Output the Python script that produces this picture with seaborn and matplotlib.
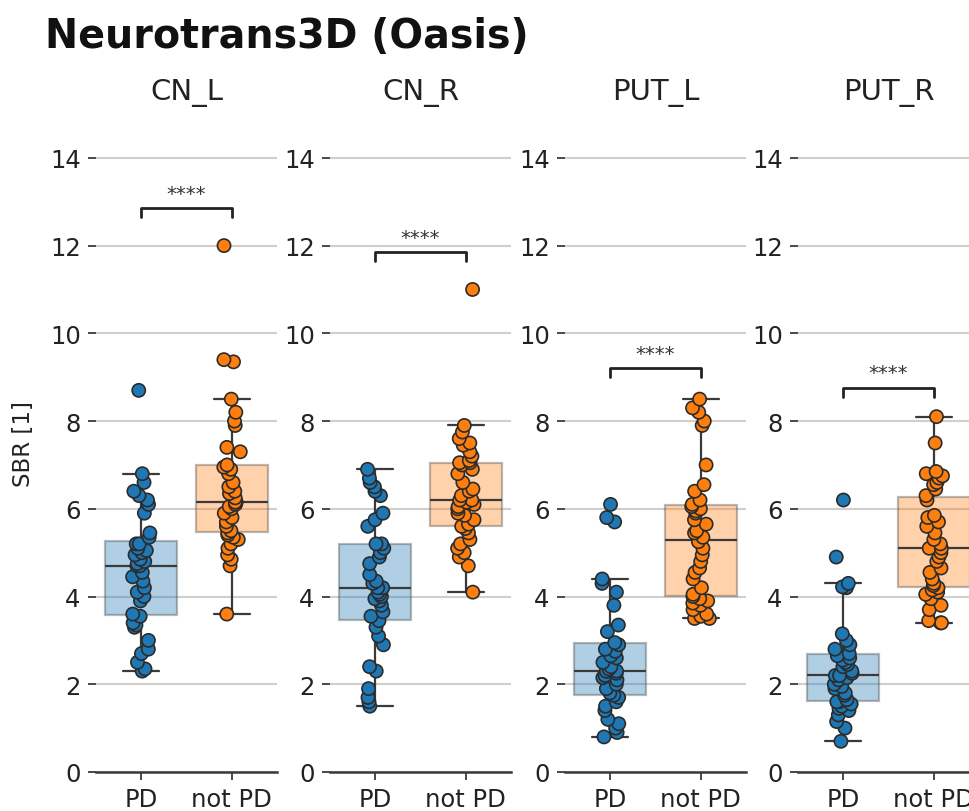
import numpy as np
import pandas as pd
import matplotlib
matplotlib.use("Agg")
import matplotlib.pyplot as plt
import seaborn as sns

# ---------------- data ----------------
regions = ["CN_L", "CN_R", "PUT_L", "PUT_R"]
groups = ["PD", "not PD"]
y_ticks = [0, 2, 4, 6, 8, 10, 12, 14]
sig_labels = ["****", "****", "****", "****"]

cn_l_pd = [2.3, 2.35, 2.5, 2.7, 2.8, 3.0, 3.3, 3.35, 3.4, 3.55,
           3.6, 3.9, 4.0, 4.1, 4.2, 4.35, 4.45, 4.55, 4.7,
           4.7, 4.75, 4.8, 4.85, 4.95, 5.0, 5.05, 5.1, 5.2,
           5.2, 5.35, 5.45, 5.9, 6.1, 6.2, 6.3, 6.4, 6.6, 6.8, 8.7]
cn_l_notpd = [3.6, 4.7, 4.85, 4.95, 5.1, 5.2, 5.3, 5.35, 5.4, 5.45,
              5.5, 5.6, 5.7, 5.8, 5.9, 6.0, 6.05, 6.1, 6.15,
              6.15, 6.25, 6.35, 6.4, 6.5, 6.6, 6.8, 6.9, 6.95,
              7.0, 7.3, 7.4, 7.9, 8.0, 8.2, 8.5, 9.35, 9.4, 12.0]
cn_r_pd = [1.5, 1.6, 1.7, 1.9, 2.3, 2.4, 2.9, 3.1, 3.3, 3.45,
           3.55, 3.65, 3.8, 3.9, 3.95, 4.0, 4.05, 4.1, 4.2,
           4.2, 4.3, 4.35, 4.5, 4.75, 4.9, 5.0, 5.1, 5.2,
           5.2, 5.6, 5.75, 5.9, 6.3, 6.4, 6.5, 6.6, 6.7, 6.9]
cn_r_notpd = [4.1, 4.7, 4.9, 5.0, 5.1, 5.2, 5.3, 5.45, 5.55, 5.6,
              5.65, 5.75, 5.85, 5.9, 6.0, 6.05, 6.1, 6.15, 6.2,
              6.2, 6.3, 6.4, 6.45, 6.6, 6.8, 6.9, 7.0, 7.05,
              7.05, 7.1, 7.2, 7.3, 7.45, 7.5, 7.6, 7.75, 7.9, 11.0]
put_l_pd = [0.8, 0.9, 1.0, 1.1, 1.2, 1.4, 1.5, 1.6, 1.7, 1.75,
            1.8, 1.9, 2.0, 2.1, 2.15, 2.2, 2.25, 2.3, 2.3,
            2.3, 2.35, 2.4, 2.5, 2.6, 2.65, 2.75, 2.8, 2.9,
            2.95, 3.2, 3.35, 3.8, 4.1, 4.3, 4.4, 5.7, 5.8, 6.1]
put_l_notpd = [3.5, 3.5, 3.55, 3.6, 3.7, 3.8, 3.85, 3.9, 3.95, 4.0,
               4.05, 4.2, 4.4, 4.55, 4.65, 4.8, 4.95, 5.1, 5.25,
               5.35, 5.45, 5.5, 5.65, 5.75, 5.9, 5.95, 6.0, 6.05,
               6.1, 6.2, 6.4, 6.55, 7.0, 7.9, 8.0, 8.2, 8.3, 8.5]
put_r_pd = [0.7, 1.0, 1.15, 1.3, 1.4, 1.45, 1.5, 1.55, 1.6, 1.6,
            1.65, 1.75, 1.8, 1.9, 1.95, 2.0, 2.1, 2.15, 2.2,
            2.2, 2.25, 2.3, 2.4, 2.45, 2.5, 2.55, 2.6, 2.65,
            2.7, 2.8, 2.9, 3.0, 3.15, 4.2, 4.22, 4.3, 4.9, 6.2]
put_r_notpd = [3.4, 3.4, 3.45, 3.7, 3.8, 3.95, 4.05, 4.1, 4.15, 4.2,
               4.25, 4.3, 4.4, 4.55, 4.65, 4.8, 4.9, 5.0, 5.1,
               5.1, 5.2, 5.3, 5.45, 5.6, 5.7, 5.8, 5.85, 6.2,
               6.3, 6.45, 6.55, 6.6, 6.7, 6.75, 6.8, 6.85, 7.5, 8.1]

values = {
    "CN_L": (cn_l_pd, cn_l_notpd),
    "CN_R": (cn_r_pd, cn_r_notpd),
    "PUT_L": (put_l_pd, put_l_notpd),
    "PUT_R": (put_r_pd, put_r_notpd),
}

rows = []
for reg in regions:
    for g, vals in zip(groups, values[reg]):
        for v in vals:
            rows.append({"region": reg, "group": g, "SBR": v})
df = pd.DataFrame(rows)

# ---------------- style ----------------
sns.set_style("ticks")
plt.rcParams["font.family"] = ["DejaVu Sans"]
palette = {"PD": "#1f77b4", "not PD": "#ff7f0e"}
dark = "#3a3a3a"

W, H = 970, 812
fig = plt.figure(figsize=(W / 100, H / 100), dpi=100)

ax_left_px = [96, 330, 565, 798]
ax_w_px = 181
ax_top_px, ax_bot_px = 115, 773
bracket_levels = [12.85, 11.85, 9.2, 8.76]

np.random.seed(3)
for i, reg in enumerate(regions):
    ax = fig.add_axes([ax_left_px[i] / W, 1 - ax_bot_px / H,
                       ax_w_px / W, (ax_bot_px - ax_top_px) / H])
    sub = df[df["region"] == reg]
    sns.boxplot(data=sub, x="group", y="SBR", hue="group", order=groups,
                hue_order=groups, palette=palette, saturation=1, width=0.8,
                showfliers=False, linecolor=dark, linewidth=1.6,
                boxprops=dict(alpha=0.35), legend=False, ax=ax, zorder=2)
    sns.stripplot(data=sub, x="group", y="SBR", hue="group", order=groups,
                  hue_order=groups, palette=palette, size=9.5, linewidth=1.2,
                  edgecolor="#2b2b2b", jitter=0.1, legend=False, ax=ax,
                  zorder=3)
    ax.set_xlim(-0.5, 1.5)
    ax.set_ylim(0, 15)
    ax.set_yticks(y_ticks)
    ax.set_yticklabels([str(t) for t in y_ticks])
    ax.yaxis.grid(True, color="#cfcfcf", linewidth=1.5, zorder=0)
    ax.set_axisbelow(True)
    for s in ["top", "right", "left"]:
        ax.spines[s].set_visible(False)
    ax.spines["bottom"].set_color(dark)
    ax.spines["bottom"].set_linewidth(1.8)
    ax.tick_params(axis="both", labelsize=17.5, colors=dark, labelcolor="#222222",
                   length=6, width=1.3, pad=5)
    ax.set_xlabel("")
    if i == 0:
        ax.set_ylabel("SBR [1]", fontsize=16.5, color="#222222", labelpad=11)
    else:
        ax.set_ylabel("")
    ax.set_title(reg, fontsize=21, pad=11, color="#222222")

    # significance bracket
    yb = bracket_levels[i]
    tip = 0.2
    ax.plot([0, 0, 1, 1], [yb - tip, yb, yb, yb - tip], color="#222222",
            linewidth=2.0, clip_on=False, zorder=4)
    ax.text(0.5, yb + 0.12, sig_labels[i], ha="center", va="bottom",
            fontsize=14, color="#333333")

fig.text(45 / W, 1 - 48 / H, "Neurotrans3D (Oasis)", fontsize=28.5,
         fontweight="bold", ha="left", va="baseline", color="#111111")

fig.savefig("out.png", dpi=100)
